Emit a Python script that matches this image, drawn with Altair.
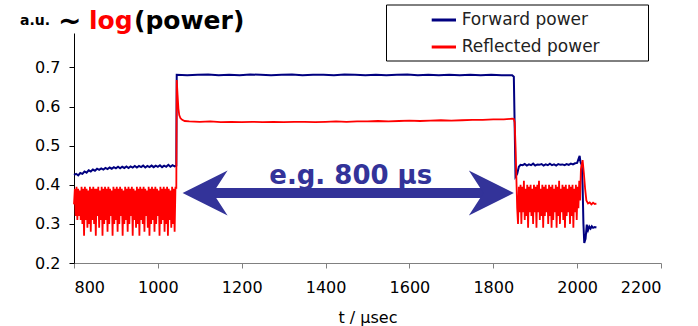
import altair as alt
import pandas as pd

SERIES = ["Forward power", "Reflected power"]
COLORS = ["#000080", "#ff0000"]
X_TICKS = [800, 1000, 1200, 1400, 1600, 1800, 2000, 2200]
Y_TICKS = [0.2, 0.3, 0.4, 0.5, 0.6, 0.7]

# ---- Forward power ----
fwd_pre = [0.425, 0.428, 0.424, 0.430, 0.428, 0.434, 0.431, 0.437, 0.434, 0.439,
           0.436, 0.441, 0.438, 0.442, 0.439, 0.443, 0.440, 0.444, 0.441, 0.445,
           0.442, 0.446, 0.442, 0.446, 0.443, 0.447, 0.443, 0.447, 0.444, 0.448,
           0.444, 0.448, 0.445, 0.449, 0.444, 0.448, 0.445, 0.449, 0.445, 0.449,
           0.446, 0.450, 0.445, 0.449, 0.446, 0.451, 0.446, 0.450, 0.447]  # t = 800..1040 step 5
fwd_mid_t = [1044, 1045, 1070, 1095, 1120, 1145, 1170, 1195, 1220, 1245, 1270, 1295, 1320,
             1345, 1370, 1395, 1420, 1445, 1470, 1495, 1520, 1545, 1570, 1595, 1620,
             1645, 1670, 1695, 1720, 1745, 1770, 1795, 1820, 1845, 1849, 1851, 1853,
             1857, 1861, 1865]
fwd_mid_v = [0.449, 0.681, 0.680, 0.681, 0.682, 0.680, 0.681, 0.680, 0.682, 0.681, 0.680,
             0.681, 0.682, 0.680, 0.681, 0.681, 0.680, 0.682, 0.681, 0.680, 0.681, 0.680,
             0.681, 0.682, 0.680, 0.681, 0.680, 0.681, 0.680, 0.681, 0.680, 0.681, 0.680,
             0.680, 0.676, 0.550, 0.421, 0.428, 0.446, 0.451]
fwd_post = [0.450, 0.453, 0.449, 0.452, 0.450, 0.454, 0.449, 0.452, 0.451, 0.453,
            0.449, 0.452, 0.450, 0.454, 0.450, 0.452, 0.449, 0.453, 0.451, 0.452,
            0.450, 0.453, 0.451, 0.454, 0.452, 0.455, 0.456]  # t = 1870..2000 step 5
fwd_end_t = [2004, 2006, 2008, 2011, 2013, 2015, 2017, 2020, 2023, 2026, 2029, 2032,
             2035, 2038, 2042, 2046]
fwd_end_v = [0.468, 0.474, 0.458, 0.450, 0.400, 0.300, 0.251, 0.262, 0.298, 0.284,
             0.293, 0.288, 0.294, 0.290, 0.292, 0.291]

# ---- Reflected power ----
ref_pre = [0.35, 0.39, 0.32, 0.395, 0.31, 0.39, 0.32, 0.385, 0.31, 0.395,
           0.30, 0.39, 0.27, 0.395, 0.31, 0.39, 0.29, 0.385, 0.30, 0.395,
           0.28, 0.39, 0.31, 0.395, 0.30, 0.39, 0.27, 0.39, 0.32, 0.395,
           0.29, 0.385, 0.31, 0.395, 0.27, 0.39, 0.30, 0.395, 0.31, 0.39,
           0.28, 0.395, 0.30, 0.39, 0.32, 0.385, 0.27, 0.395, 0.30, 0.39,
           0.31, 0.395, 0.28, 0.39, 0.30, 0.395, 0.32, 0.39, 0.27, 0.385,
           0.30, 0.395, 0.31, 0.39, 0.28, 0.395, 0.30, 0.39, 0.32, 0.395,
           0.27, 0.39, 0.31, 0.385, 0.29, 0.395, 0.30, 0.39, 0.27, 0.395,
           0.31, 0.39, 0.30, 0.395, 0.28, 0.39, 0.32, 0.385, 0.29, 0.395,
           0.27, 0.39, 0.30, 0.395, 0.31, 0.39, 0.28, 0.395, 0.30, 0.39,
           0.32, 0.385, 0.27, 0.395, 0.30, 0.39, 0.31, 0.395, 0.28, 0.39,
           0.30, 0.395, 0.27, 0.39, 0.31, 0.385, 0.29, 0.395, 0.30, 0.39,
           0.28, 0.395, 0.39]  # t = 800..1044 step 2
ref_mid_t = [1045, 1047, 1049, 1051, 1054, 1058, 1064, 1075, 1100, 1125, 1150, 1175,
             1200, 1225, 1250, 1275, 1300, 1325, 1350, 1375, 1400, 1425, 1450, 1475,
             1500, 1525, 1550, 1575, 1600, 1625, 1650, 1675, 1700, 1725, 1750, 1775,
             1800, 1825, 1845, 1849, 1851, 1853, 1855, 1857, 1859]
ref_mid_v = [0.668, 0.630, 0.595, 0.578, 0.570, 0.566, 0.563, 0.562, 0.561, 0.562,
             0.560, 0.561, 0.560, 0.561, 0.560, 0.561, 0.560, 0.561, 0.561, 0.560,
             0.561, 0.562, 0.561, 0.562, 0.562, 0.563, 0.562, 0.563, 0.564, 0.563,
             0.564, 0.565, 0.564, 0.565, 0.566, 0.566, 0.567, 0.567, 0.569, 0.568,
             0.560, 0.500, 0.420, 0.340, 0.300]
ref_post = [0.395, 0.33, 0.40, 0.30, 0.395, 0.33, 0.41, 0.31, 0.39, 0.32,
            0.40, 0.29, 0.395, 0.33, 0.40, 0.32, 0.39, 0.30, 0.40, 0.33,
            0.395, 0.29, 0.40, 0.33, 0.41, 0.31, 0.39, 0.32, 0.40, 0.29,
            0.395, 0.32, 0.40, 0.33, 0.39, 0.30, 0.40, 0.32, 0.395, 0.29,
            0.40, 0.31, 0.39, 0.33, 0.40, 0.29, 0.395, 0.32, 0.41, 0.30,
            0.39, 0.33, 0.40, 0.31, 0.395, 0.29, 0.40, 0.32, 0.39, 0.33,
            0.40, 0.30, 0.395, 0.32, 0.40, 0.29, 0.39, 0.33, 0.40, 0.31,
            0.395, 0.34, 0.41, 0.36]  # t = 1861..2007 step 2
ref_end_t = [2009, 2013, 2016, 2019, 2022, 2026, 2030, 2034, 2038, 2042, 2046]
ref_end_v = [0.440, 0.463, 0.430, 0.390, 0.360, 0.352, 0.355, 0.350, 0.354, 0.351, 0.352]

# Annotation: duration arrow
ARROW_T = [1059, 1849]
ARROW_V = 0.379
ARROW_LABEL = "e.g. 800 µs"
ARROW_LABEL_T = 1460
ARROW_LABEL_V = 0.402

fwd_t = [800 + 5 * i for i in range(len(fwd_pre))] + fwd_mid_t + \
        [1870 + 5 * i for i in range(len(fwd_post))] + fwd_end_t
fwd_v = fwd_pre + fwd_mid_v + fwd_post + fwd_end_v
ref_t = [800 + 2 * i for i in range(len(ref_pre))] + ref_mid_t + \
        [1861 + 2 * i for i in range(len(ref_post))] + ref_end_t
ref_v = ref_pre + ref_mid_v + ref_post + ref_end_v

fwd_df = pd.DataFrame({"t": fwd_t, "v": fwd_v, "series": SERIES[0]})
ref_df = pd.DataFrame({"t": ref_t, "v": ref_v, "series": SERIES[1]})

FONT = "DejaVu Sans"
ARROW_COLOR = "#333399"

xs = alt.Scale(domain=[800, 2200], nice=False, zero=False)
ys = alt.Scale(domain=[0.2, 0.788], nice=False, zero=False)
xaxis = alt.Axis(values=X_TICKS, format="d", grid=False, domainColor="#808080",
                 tickColor="#808080", tickSize=5, labelFont=FONT, labelFontSize=16,
                 labelColor="#000", labelPadding=11, title="t / µsec", titleFont=FONT,
                 titleFontSize=16, titleFontWeight="normal", titleColor="#000",
                 titlePadding=14)
yaxis = alt.Axis(values=Y_TICKS, format=".1f", grid=False, domainColor="#000", tickColor="#000",
                 tickSize=5, labelFont=FONT, labelFontSize=16, labelColor="#000",
                 labelPadding=9, title=None)


def X(field="t"):
    return alt.X(f"{field}:Q", scale=xs, axis=xaxis, title="t / µsec")


def Y(field="v"):
    return alt.Y(f"{field}:Q", scale=ys, axis=yaxis, title=None)


color = alt.Color("series:N", scale=alt.Scale(domain=SERIES, range=COLORS), legend=None)

fwd_line = alt.Chart(fwd_df).mark_line(strokeWidth=2).encode(x=X(), y=Y(), color=color)
ref_line = alt.Chart(ref_df).mark_line(strokeWidth=1.8).encode(x=X(), y=Y(), color=color)

# arrow
shaft_df = pd.DataFrame({"t": [ARROW_T[0] + 40], "t2": [ARROW_T[1] - 40], "v": [ARROW_V]})
shaft = alt.Chart(shaft_df).mark_rule(strokeWidth=10, color=ARROW_COLOR, strokeCap="butt").encode(
    x=X(), x2="t2:Q", y=Y())
left_df = pd.DataFrame({"t": [ARROW_T[0]], "v": [ARROW_V]})
right_df = pd.DataFrame({"t": [ARROW_T[1]], "v": [ARROW_V]})
head_l = alt.Chart(left_df).mark_point(shape="M 0 0 L 2 -1 L 1.35 0 L 2 1 Z", size=2025,
                                       filled=True, color=ARROW_COLOR, opacity=1,
                                       strokeWidth=0).encode(x=X(), y=Y())
head_r = alt.Chart(right_df).mark_point(shape="M 0 0 L -2 -1 L -1.35 0 L -2 1 Z", size=2025,
                                        filled=True, color=ARROW_COLOR, opacity=1,
                                        strokeWidth=0).encode(x=X(), y=Y())
label_df = pd.DataFrame({"t": [ARROW_LABEL_T], "v": [ARROW_LABEL_V], "txt": [ARROW_LABEL]})
arrow_text = alt.Chart(label_df).mark_text(font=FONT, fontSize=26, fontWeight="bold",
                                           color=ARROW_COLOR, align="center",
                                           baseline="alphabetic").encode(
    x=X(), y=Y(), text="txt:N")

one = pd.DataFrame({"a": [0]})


def title_piece(txt, x, y, size, col, weight="bold"):
    return alt.Chart(one).mark_text(text=txt, font=FONT, fontSize=size, fontWeight=weight,
                                    color=col, align="left", baseline="alphabetic").encode(
        x=alt.value(x), y=alt.value(y))


t1 = title_piece("a.u.", -54, -8, 14, "#000")
t2 = title_piece("~", -16, -3, 28, "#000")
t3 = title_piece("log", 15, -4, 25, "#ff0000")
t4 = title_piece("(power)", 60, -4, 25, "#000")

# legend (manual box)
box = alt.Chart(one).mark_rect(fill="white", stroke="#000", strokeWidth=1).encode(
    x=alt.value(312.5), x2=alt.value(574.5), y=alt.value(-28), y2=alt.value(28))
leg = []
for i, (s, c) in enumerate(zip(SERIES, COLORS)):
    yy = -13 + 27 * i
    leg.append(alt.Chart(one).mark_rule(color=c, strokeWidth=3).encode(
        x=alt.value(357.7), x2=alt.value(382), y=alt.value(yy)))
    leg.append(alt.Chart(one).mark_text(text=s, font=FONT, fontSize=17, color="#222",
                                        align="left", baseline="middle").encode(
        x=alt.value(387.7), y=alt.value(yy)))

chart = alt.layer(fwd_line, ref_line, shaft, head_l, head_r, arrow_text,
                  t1, t2, t3, t4, box, *leg).properties(
    width=587, height=230,
    autosize=alt.AutoSizeParams(type="none"),
    padding={"left": 74, "top": 33, "right": 37, "bottom": 63},
    background="white",
).configure_view(stroke=None)

chart.save("out.html", embed_options={"renderer": "svg", "actions": False})
